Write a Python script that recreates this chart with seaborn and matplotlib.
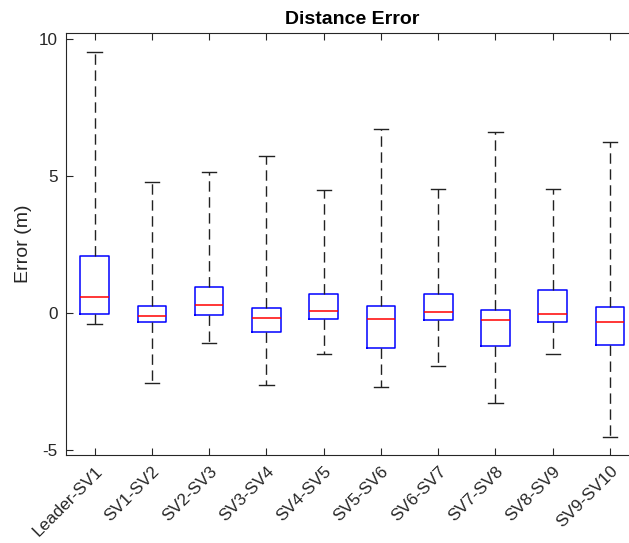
import numpy as np
import pandas as pd
import seaborn as sns
import matplotlib.pyplot as plt

# five-number summaries (whisker low, q1, median, q3, whisker high)
pairs    = ['Leader-SV1', 'SV1-SV2', 'SV2-SV3', 'SV3-SV4', 'SV4-SV5',
            'SV5-SV6', 'SV6-SV7', 'SV7-SV8', 'SV8-SV9', 'SV9-SV10']
whisk_lo = [-0.40, -2.56, -1.12, -2.64, -1.49, -2.72, -1.94, -3.29, -1.51, -4.54]
q1       = [-0.05, -0.33, -0.08, -0.69, -0.23, -1.29, -0.28, -1.22, -0.34, -1.17]
median   = [ 0.57, -0.11,  0.28, -0.18,  0.05, -0.21,  0.03, -0.27, -0.05, -0.33]
q3       = [ 2.06,  0.25,  0.94,  0.16,  0.67,  0.26,  0.68,  0.09,  0.84,  0.21]
whisk_hi = [ 9.54,  4.79,  5.13,  5.73,  4.50,  6.73,  4.52,  6.61,  4.51,  6.23]

# 5 points per group -> percentiles land exactly on the summary values
rows = []
for i, p in enumerate(pairs):
    for v in (whisk_lo[i], q1[i], median[i], q3[i], whisk_hi[i]):
        rows.append({'pair': p, 'err': v})
df = pd.DataFrame(rows)

plt.rcParams['font.family'] = ['Liberation Sans', 'DejaVu Sans']
plt.rcParams['axes.unicode_minus'] = False

fig = plt.figure(figsize=(6.29, 5.43), dpi=100)
ax = fig.add_axes([66 / 629, 1 - 455 / 543, (638.6 - 66) / 629, (455 - 33.3) / 543])

sns.boxplot(
    data=df, x='pair', y='err', ax=ax,
    order=pairs, whis=np.inf, width=0.5, fill=False, showfliers=False,
    boxprops={'color': 'blue', 'linewidth': 1.1},
    medianprops={'color': 'red', 'linewidth': 1.1},
    whiskerprops={'color': '#222222', 'linestyle': (0, (7.5, 4)), 'linewidth': 1.0},
    capprops={'color': '#222222', 'linewidth': 1.0},
)

ax.set_xlim(-0.5, 9.5)
ax.set_ylim(-5.2, 10.22)
ax.set_yticks([-5, 0, 5, 10])
ax.set_title('Distance Error', fontsize=14, fontweight='bold', pad=7)
ax.set_xlabel('')
ax.set_ylabel('Error (m)', fontsize=14, color='#262626', labelpad=5)

ax.tick_params(direction='in', top=True, right=True, length=5, width=0.8,
               color='#262626', labelcolor='#262626', labelsize=12.3)
ax.tick_params(axis='y', pad=6)
ax.tick_params(axis='x', pad=6)
plt.setp(ax.get_xticklabels(), rotation=45, ha='right', va='top', rotation_mode='anchor')
for s in ax.spines.values():
    s.set_color('#262626')
    s.set_linewidth(0.8)

fig.savefig('out.png', dpi=100)
